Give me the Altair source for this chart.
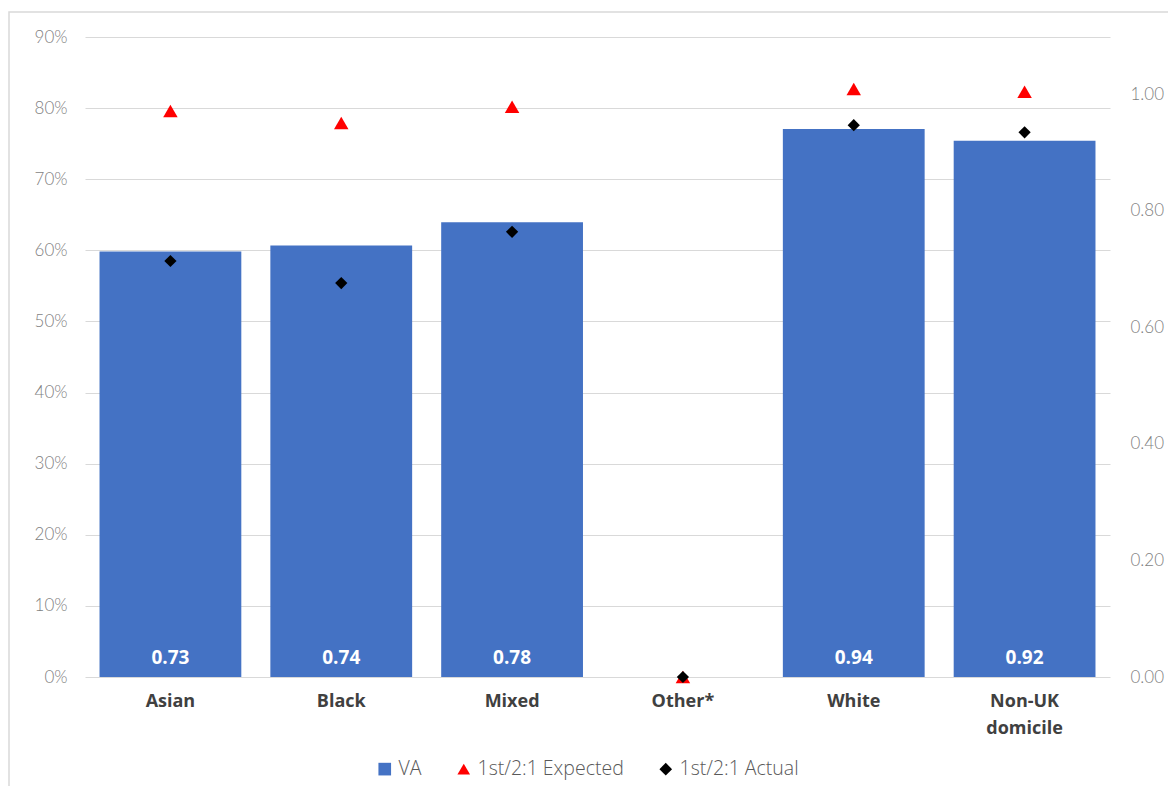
import altair as alt
import pandas as pd

categories = ["Asian", "Black", "Mixed", "Other*", "White", "Non-UK domicile"]
va_values = [0.73, 0.74, 0.78, 0.0, 0.94, 0.92]
expected_values = [0.796, 0.779, 0.802, 0.0, 0.827, 0.823]
actual_values = [0.585, 0.554, 0.626, 0.0, 0.776, 0.766]
series_names = ["VA", "1st/2:1 Expected", "1st/2:1 Actual"]
series_colors = ["#4472C4", "#FF0000", "#000000"]
series_shapes = ["square", "triangle-up", "diamond"]
left_ticks = [0, 0.1, 0.2, 0.3, 0.4, 0.5, 0.6, 0.7, 0.8, 0.9]
right_ticks = [0, 0.2, 0.4, 0.6, 0.8, 1.0]

bars_df = pd.DataFrame({"category": categories, "value": va_values, "series": series_names[0]})
pts_df = pd.DataFrame({
    "category": categories + categories,
    "value": expected_values + actual_values,
    "series": [series_names[1]] * len(categories) + [series_names[2]] * len(categories),
})

FONT = "Open Sans"
TICK_FONT = "Lato"

color_scale = alt.Scale(domain=series_names, range=series_colors)
shape_scale = alt.Scale(domain=series_names, range=series_shapes)


def legend_cfg():
    return alt.Legend(
        title=None, orient="none", legendX=290, legendY=722, direction="horizontal",
        labelFontSize=19.5, labelColor="#595959", labelFont=FONT, labelFontWeight=300,
        symbolSize=160, columnPadding=32, labelOffset=4, symbolStrokeWidth=0,
    )


x_enc = alt.X(
    "category:N", sort=categories, title=None,
    scale=alt.Scale(paddingInner=0.17, paddingOuter=0.085),
    axis=alt.Axis(
        labelAngle=0, labelFontSize=18, labelFontWeight="bold", labelColor="#404040",
        labelFont=FONT, labelPadding=15, ticks=False, domain=False,
        labelExpr="split(datum.label, ' ')", labelLineHeight=27,
    ),
)

right_scale = alt.Scale(domain=[0, 1.0978], nice=False)

bars = alt.Chart(bars_df).mark_bar().encode(
    x=x_enc,
    y=alt.Y(
        "value:Q", title=None, scale=right_scale,
        axis=alt.Axis(
            orient="right", values=right_ticks, format=".2f", grid=False, ticks=False,
            domain=False, labelPadding=20, labelFontSize=17, labelColor="#7f7f7f",
            labelFont=TICK_FONT, labelFontWeight=300,
        ),
    ),
    color=alt.Color("series:N", scale=color_scale, legend=legend_cfg()),
)

bar_text = alt.Chart(bars_df).transform_filter("datum.value > 0").mark_text(
    color="white", fontWeight="bold", fontSize=19, font=FONT, baseline="alphabetic", dy=-13,
).encode(
    x=alt.X("category:N", sort=categories),
    y=alt.YDatum(0),
    text=alt.Text("value:Q", format=".2f"),
)

points = alt.Chart(pts_df).mark_point(filled=True, opacity=1).encode(
    x=alt.X("category:N", sort=categories),
    y=alt.Y(
        "value:Q", title=None, scale=alt.Scale(domain=[0, 0.9], nice=False),
        axis=alt.Axis(
            orient="left", values=left_ticks, format=".0%", grid=True, gridColor="#d9d9d9",
            gridWidth=1.2, ticks=False, domain=False, labelPadding=18, labelFontSize=17,
            labelColor="#7f7f7f", labelFont=TICK_FONT, labelFontWeight=300,
        ),
    ),
    color=alt.Color("series:N", scale=color_scale, legend=legend_cfg()),
    shape=alt.Shape("series:N", scale=shape_scale, legend=legend_cfg()),
    size=alt.Size("series:N", scale=alt.Scale(domain=series_names[1:], range=[210, 150]), legend=None),
)

frame = alt.Chart(pd.DataFrame({"f": [0]})).mark_rect(
    fillOpacity=0, stroke="#d9d9d9", strokeWidth=1.5,
).encode(
    x=alt.value(-76), x2=alt.value(1120), y=alt.value(-25), y2=alt.value(800),
)

chart = alt.layer(
    frame,
    alt.layer(bars, bar_text),
    points,
).resolve_scale(y="independent").properties(
    width=1025, height=640,
    autosize=alt.AutoSizeParams(type="none"),
    padding={"left": 77, "top": 29, "right": 58, "bottom": 109},
).configure_view(strokeWidth=0)

chart.save("out.html", embed_options={"renderer": "svg", "actions": False})
